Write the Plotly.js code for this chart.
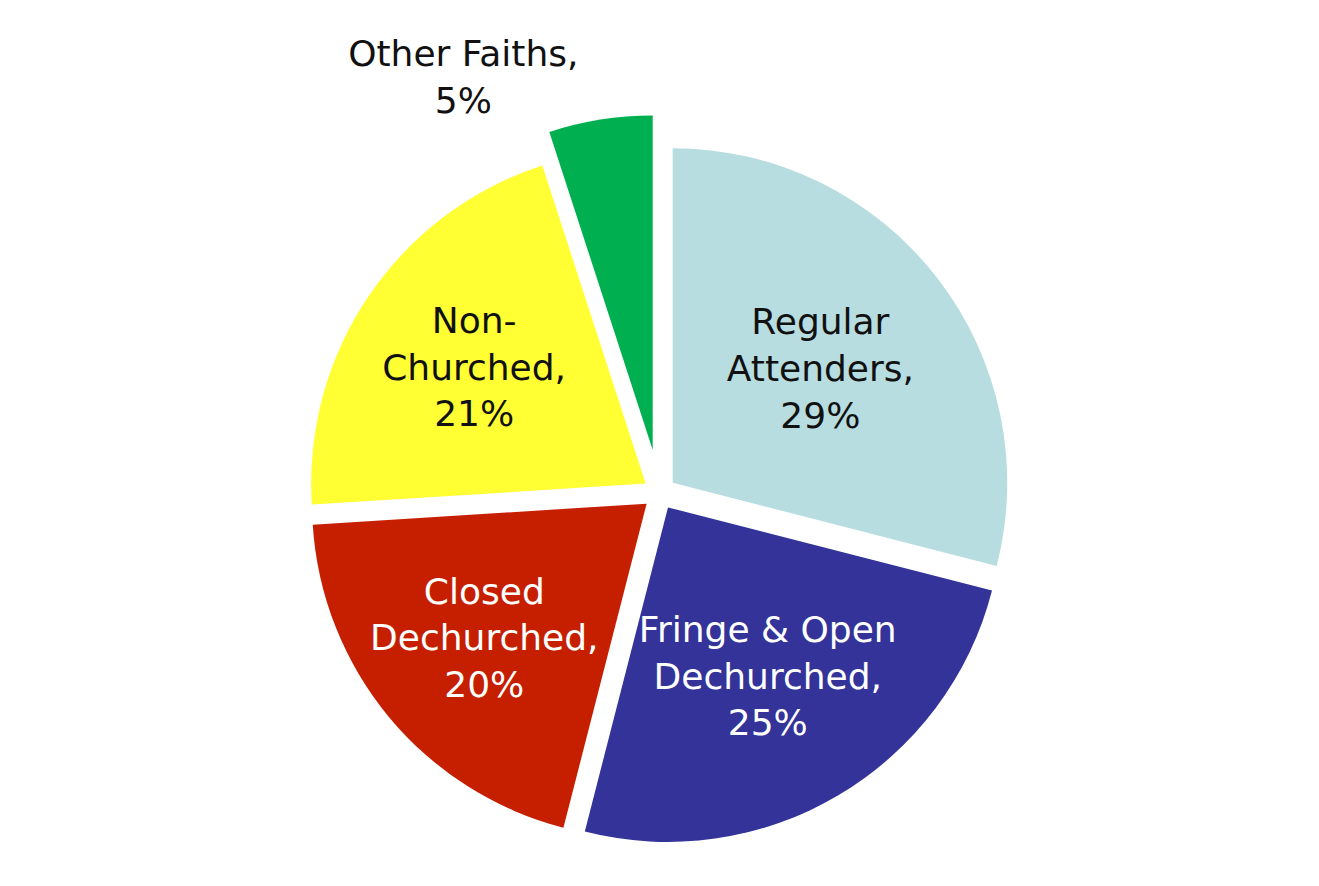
<!DOCTYPE html>
<html>
<head>
<meta charset="utf-8">
<script src="https://cdn.plot.ly/plotly-3.0.1.min.js"></script>
<style>html,body{margin:0;padding:0;background:#fff;}#chart{width:1319px;height:886px;}</style>
</head>
<body>
<div id="chart"></div>
<script>
const categories = ["Regular Attenders", "Fringe & Open Dechurched", "Closed Dechurched", "Non-Churched", "Other Faiths"];
const labelTexts = ["Regular<br>Attenders,<br>29%", "Fringe & Open<br>Dechurched,<br>25%", "Closed<br>Dechurched,<br>20%", "Non-<br>Churched,<br>21%", "Other Faiths,<br>5%"];
const values = [29, 25, 20, 21, 5];
const colors = ["#b7dde0", "#333399", "#c61f00", "#ffff33", "#00b050"];
const textColors = ["#111111", "#ffffff", "#ffffff", "#111111", "#111111"];
const pulls = [0.05, 0.05, 0.05, 0.05, 0.13];
const positions = ["inside", "inside", "inside", "inside", "outside"];

const trace = {
  type: "pie",
  labels: categories,
  values: values,
  text: labelTexts,
  textinfo: "text",
  hoverinfo: "label+percent",
  sort: false,
  direction: "clockwise",
  rotation: 0,
  pull: pulls,
  textposition: positions,
  insidetextorientation: "horizontal",
  marker: { colors: colors, line: { color: "#ffffff", width: 0 } },
  insidetextfont: { family: "DejaVu Sans, Tahoma, sans-serif", size: 36, color: textColors },
  outsidetextfont: { family: "DejaVu Sans, Tahoma, sans-serif", size: 36, color: "#111111" },
  domain: { x: [0, 1], y: [0, 1] },
  automargin: false,
  showlegend: false
};

const layout = {
  width: 1319,
  height: 886,
  margin: { l: 20, r: 20, t: 115, b: 15 },
  paper_bgcolor: "#ffffff",
  plot_bgcolor: "#ffffff",
  showlegend: false,
  uniformtext: { mode: "show", minsize: 36 },
  font: { family: "DejaVu Sans, Tahoma, sans-serif", color: "#111111" }
};

Plotly.newPlot("chart", [trace], layout, { displayModeBar: false, staticPlot: true });
</script>
</body>
</html>
